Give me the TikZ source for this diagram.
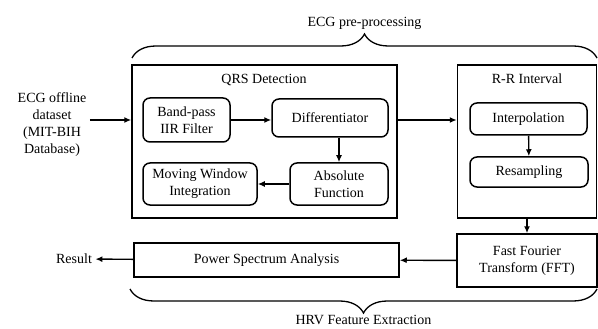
\documentclass[tikz,border=0pt]{standalone}
\usepackage{fontspec}
\setmainfont{Liberation Serif}
\usepackage{tikz}
\usetikzlibrary{arrows.meta, positioning, decorations.pathreplacing}

\begin{document}
\begin{tikzpicture}[x=1pt,y=-1pt,>={Latex[length=7pt,width=6pt]},
        every node/.style={font=\fontsize{14}{17}\selectfont, align=center},
        outer/.style={draw, line width=1.5pt, inner sep=0pt},
        inner/.style={draw, line width=1.5pt, rounded corners=7pt, inner sep=0pt},
        flow/.style={->, line width=1.4pt},
        curly/.style={decorate, decoration={brace, amplitude=24pt}, line width=1.3pt}]
    \useasboundingbox (0,0) rectangle (598,329);

      \node[outer, minimum width=265pt, minimum height=153pt] (qrs) at (264.5,141.5) {};
      \node[outer, minimum width=139pt, minimum height=153pt] (rr)  at (527,141.5) {};
      \node (qrs_t) at (264,80) {QRS Detection};
      \node (rr_t)  at (527,79) {R-R Interval};

      \node[inner, minimum width=87pt,  minimum height=44pt] (bpf)    at (186.5,120) {Band-pass\\IIR Filter};
      \node[inner, minimum width=116pt, minimum height=38pt] (dif)    at (330,118) {Differentiator};
      \node[inner, minimum width=98pt,  minimum height=42pt] (absf)   at (339,184) {Absolute\\Function};
      \node[inner, minimum width=114pt, minimum height=42pt] (mwi)    at (200,184) {Moving Window\\Integration};
      \node[inner, minimum width=117pt, minimum height=32pt] (interp) at (528.5,119) {Interpolation};
      \node[inner, minimum width=118pt, minimum height=30pt] (resamp) at (529,172) {Resampling};

      \node[outer, minimum width=140pt, minimum height=53pt] (fft) at (527,260.5) {Fast Fourier\\Transform (FFT)};
      \node[outer, minimum width=265pt, minimum height=34pt] (psa) at (266.5,260) {Power Spectrum Analysis};

      \node (ecg) at (52,125) {ECG offline\\dataset\\(MIT-BIH\\Database)};
      \node (res) at (74,259) {Result};

      \draw[curly] (132,58) -- (597,58) node[midway, above=24pt] (pre) {ECG pre-processing};
      \draw[curly] (597,289) -- (130,289) node[midway, below=22pt] (hrv) {HRV Feature Extraction};

      \draw[flow] (ecg.east |- bpf) -- (qrs.west |- bpf);
      \draw[flow] (bpf) -- (bpf -| dif.west);
      \draw[flow] (absf.north |- dif.south) -- (absf.north);
      \draw[flow] (absf) -- (mwi);
      \draw[flow] (qrs.east |- bpf) -- (rr.west |- bpf);
      \draw[flow] (interp) -- (resamp);
      \draw[flow] (rr.south) -- (fft.north);
      \draw[flow] (fft) -- (psa);
      \draw[flow] (psa) -- (res);
    \end{tikzpicture}
\end{document}
